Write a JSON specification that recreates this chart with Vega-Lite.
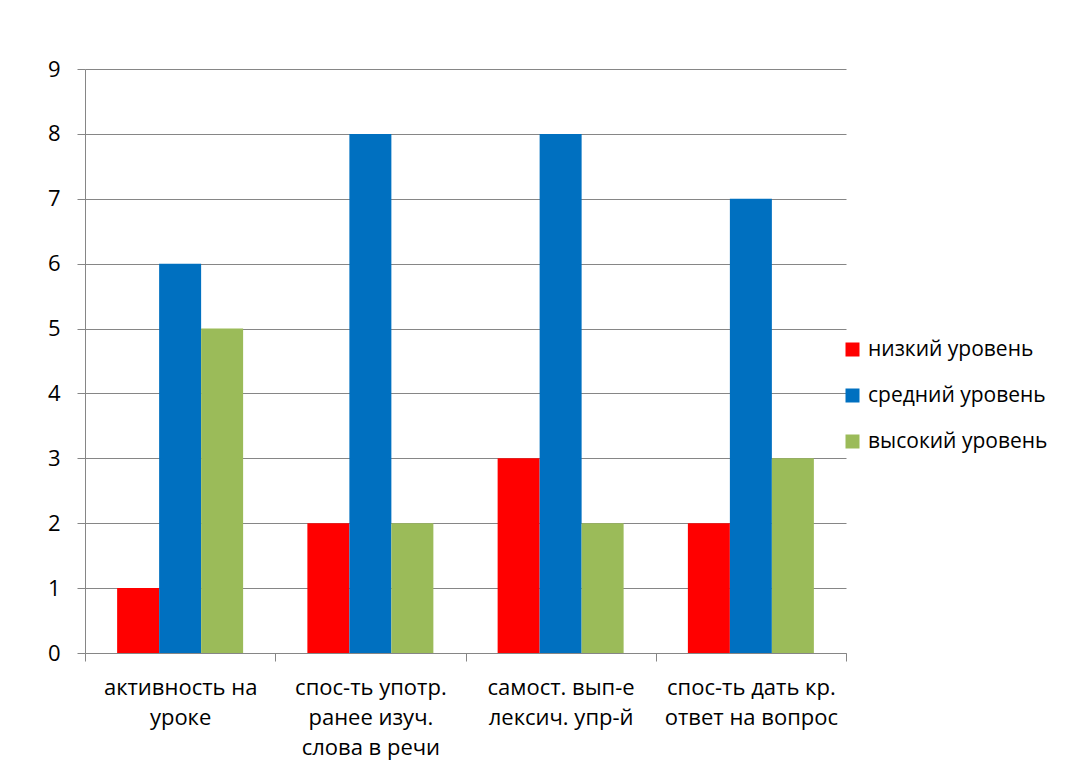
{
  "$schema": "https://vega.github.io/schema/vega-lite/v6.json",
  "width": 761,
  "height": 584,
  "autosize": {"type": "none"},
  "padding": {"left": 85, "top": 69, "right": 234, "bottom": 121},
  "background": "white",
  "data": {
    "values": [
      {"cat": "активность на|уроке", "level": "низкий уровень", "value": 1},
      {"cat": "активность на|уроке", "level": "средний уровень", "value": 6},
      {"cat": "активность на|уроке", "level": "высокий уровень", "value": 5},
      {"cat": "спос-ть употр.|ранее изуч.|слова в речи", "level": "низкий уровень", "value": 2},
      {"cat": "спос-ть употр.|ранее изуч.|слова в речи", "level": "средний уровень", "value": 8},
      {"cat": "спос-ть употр.|ранее изуч.|слова в речи", "level": "высокий уровень", "value": 2},
      {"cat": "самост. вып-е|лексич. упр-й", "level": "низкий уровень", "value": 3},
      {"cat": "самост. вып-е|лексич. упр-й", "level": "средний уровень", "value": 8},
      {"cat": "самост. вып-е|лексич. упр-й", "level": "высокий уровень", "value": 2},
      {"cat": "спос-ть дать кр.|ответ на вопрос", "level": "низкий уровень", "value": 2},
      {"cat": "спос-ть дать кр.|ответ на вопрос", "level": "средний уровень", "value": 7},
      {"cat": "спос-ть дать кр.|ответ на вопрос", "level": "высокий уровень", "value": 3}
    ]
  },
  "mark": {"type": "bar"},
  "encoding": {
    "x": {
      "field": "cat",
      "type": "nominal",
      "sort": null,
      "scale": {"paddingInner": 0, "paddingOuter": 0},
      "axis": {
        "title": null,
        "labelAngle": 0,
        "labelExpr": "split(datum.label, '|')",
        "labelFont": "Open Sans",
        "labelFontSize": 22,
        "labelColor": "black",
        "labelLineHeight": 30,
        "labelPadding": 16,
        "labelLimit": 300,
        "tickBand": "extent",
        "tickSize": 8,
        "tickColor": "#868686",
        "domainColor": "#868686",
        "grid": false
      }
    },
    "xOffset": {
      "field": "level",
      "type": "nominal",
      "sort": ["низкий уровень", "средний уровень", "высокий уровень"],
      "scale": {"paddingInner": 0, "paddingOuter": 0.765}
    },
    "y": {
      "field": "value",
      "type": "quantitative",
      "scale": {"domain": [0, 9], "nice": false},
      "axis": {
        "title": null,
        "values": [0, 1, 2, 3, 4, 5, 6, 7, 8, 9],
        "labelFont": "Open Sans",
        "labelFontSize": 22,
        "labelColor": "black",
        "labelPadding": 17,
        "tickSize": 8,
        "tickColor": "#868686",
        "domainColor": "#868686",
        "gridColor": "#868686",
        "gridWidth": 1
      }
    },
    "color": {
      "field": "level",
      "type": "nominal",
      "sort": ["низкий уровень", "средний уровень", "высокий уровень"],
      "scale": {
        "domain": ["низкий уровень", "средний уровень", "высокий уровень"],
        "range": ["#FF0000", "#0070C0", "#9BBB59"]
      },
      "legend": {
        "title": null,
        "orient": "none",
        "legendX": 757,
        "legendY": 270,
        "symbolType": "square",
        "symbolSize": 196,
        "symbolStrokeWidth": 0,
        "labelFont": "Open Sans",
        "labelFontSize": 21,
        "labelColor": "black",
        "labelOffset": 5,
        "labelLimit": 300,
        "rowPadding": 24
      }
    }
  },
  "config": {
    "view": {"stroke": null},
    "axis": {"domainWidth": 1, "tickWidth": 1}
  }
}
